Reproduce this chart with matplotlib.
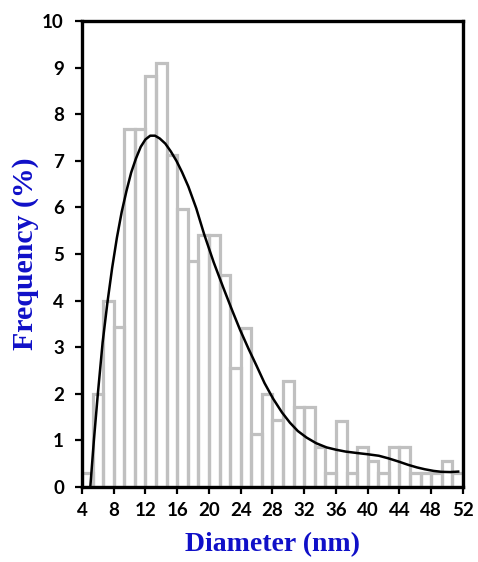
import numpy as np
import matplotlib
matplotlib.use("Agg")
import matplotlib.pyplot as plt

# histogram: 36 bins of 4/3 nm between 4 and 52 nm, frequency in %
bin_left = 4.0
bin_width = 4.0 / 3.0
freq = [0.29, 2.00, 4.00, 3.43, 7.68, 7.68, 8.83, 9.11, 7.12, 5.97,
        4.84, 5.41, 5.41, 4.56, 2.56, 3.42, 1.14, 1.99, 1.44, 2.27,
        1.71, 1.71, 0.85, 0.29, 1.41, 0.29, 0.85, 0.56, 0.29, 0.85,
        0.85, 0.29, 0.29, 0.29, 0.56, 0.29]

# fitted distribution curve
curve_x = [5.05, 5.5, 6.0, 6.6, 7.2, 7.8, 8.4, 9.0, 9.6, 10.2, 10.8, 11.4,
           12.0, 12.6, 13.2, 13.8, 14.5, 15.2, 15.9, 16.6, 17.4, 18.4,
           19.4, 20.6, 21.8, 22.9, 23.9, 25.0, 26.0, 27.0, 28.1, 29.2,
           30.2, 31.2, 32.3, 33.5, 34.8, 36.0, 37.2, 38.6, 40.1, 41.4,
           42.6, 43.9, 45.1, 46.2, 47.2, 48.3, 49.3, 50.4, 51.4]
curve_y = [0.0, 1.0, 2.0, 3.1, 3.95, 4.7, 5.35, 5.9, 6.35, 6.75, 7.05, 7.3,
           7.46, 7.54, 7.54, 7.48, 7.37, 7.2, 7.0, 6.76, 6.45, 5.98,
           5.42, 4.82, 4.28, 3.8, 3.38, 2.96, 2.6, 2.23, 1.89, 1.6,
           1.38, 1.2, 1.06, 0.94, 0.85, 0.8, 0.76, 0.73, 0.7, 0.67,
           0.615, 0.545, 0.475, 0.42, 0.38, 0.345, 0.325, 0.32, 0.33]

x_ticks = list(range(4, 53, 4))
y_ticks = list(range(0, 11))

fig = plt.figure(figsize=(4.78, 5.62), dpi=100)
ax = fig.add_axes([0.1715, 0.1335, 0.797, 0.829])

lefts = bin_left + bin_width * np.arange(len(freq))
ax.bar(lefts, freq, width=bin_width, align='edge', fill=False,
       edgecolor='#C0C0C0', linewidth=2.3, zorder=1)
ax.plot(curve_x, curve_y, color='black', linewidth=1.8, zorder=2,
        solid_joinstyle='round')

ax.set_xlim(4, 52)
ax.set_ylim(0, 10)
ax.set_xticks(x_ticks)
ax.set_yticks(y_ticks)

for s in ax.spines.values():
    s.set_linewidth(2.4)
    s.set_color('black')
    s.set_zorder(3)

ax.tick_params(direction='out', length=5, width=1.6, colors='black')
ax.tick_params(axis='y', pad=8)
ax.tick_params(axis='x', pad=6)
for lab in ax.get_xticklabels() + ax.get_yticklabels():
    lab.set_fontfamily('Lato')
    lab.set_fontweight('bold')
    lab.set_fontsize(13.5)

ax.set_xlabel('Diameter (nm)', fontfamily='Liberation Serif', fontweight='bold',
              fontsize=20, color='#1010C8', labelpad=9)
ax.set_ylabel('Frequency (%)', fontfamily='Liberation Serif', fontweight='bold',
              fontsize=21.5, color='#1010C8', labelpad=2)

fig.savefig('out.png', dpi=100)
